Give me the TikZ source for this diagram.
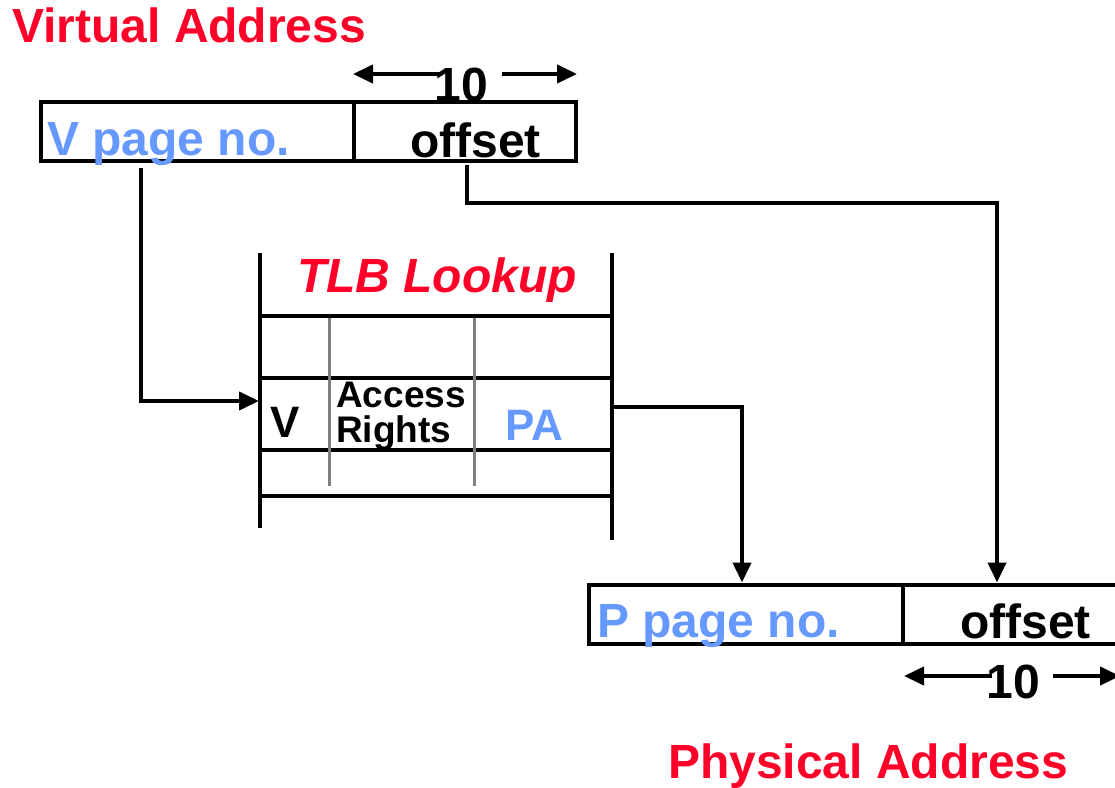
\documentclass[tikz,border=0pt]{standalone}
\usepackage{fontspec}
\setmainfont{Liberation Sans}
\usetikzlibrary{arrows.meta}
\definecolor{tred}{HTML}{FF0028}
\definecolor{tblue}{HTML}{6699FF}
\definecolor{tgray}{HTML}{808080}
\tikzset{
  fld/.style={draw=black, line width=4pt, inner sep=0pt, minimum height=59pt},
  big/.style={font=\fontsize{48}{50}\selectfont\bfseries, inner sep=0pt},
  mid/.style={font=\fontsize{44}{48}\selectfont\bfseries, inner sep=0pt},
  small/.style={font=\fontsize{37}{35}\selectfont\bfseries, inner sep=0pt, align=left},
  arr/.style={line width=4pt, -{Triangle[length=20pt,width=18pt]}},
  tline/.style={line width=4pt},
  gline/.style={line width=3pt, draw=tgray}
}
\begin{document}
\begin{tikzpicture}[x=1pt,y=-1pt]
\useasboundingbox (0,0) rectangle (1115,787);
% titles
\node[big, text=tred, anchor=base west] (vatitle) at (12,42) {Virtual Address};
\node[big, text=tred, anchor=base west] (patitle) at (668,778) {Physical Address};
% virtual address box
\node[fld, minimum width=313pt] (vpn) at (197.5,131.5) {};
\node[fld, minimum width=222pt] (voff) at (465,131.5) {};
\node[big, text=tblue, anchor=base west] (vpntext) at (47,155) {V page no.};
\node[big, anchor=base west] (vofftext) at (410,157) {offset};
% 10 width marker (top)
\node[big, anchor=base] (ten1) at (461,101) {10};
\coordinate (t1l) at (353,74);
\coordinate (t1r) at (577,74);
\coordinate (t1a) at (442,74);
\coordinate (t1b) at (502,74);
\draw[arr] (t1a) -- (t1l);
\draw[arr] (t1b) -- (t1r);
% physical address box
\node[fld, minimum width=314pt] (ppn) at (746,614) {};
\node[fld, minimum width=216pt] (poff) at (1011,614) {};
\node[big, text=tblue, anchor=base west] (ppntext) at (597,637) {P page no.};
\node[big, anchor=base west] (pofftext) at (960,638) {offset};
% 10 width marker (bottom)
\node[big, anchor=base] (ten2) at (1013,698) {10};
\coordinate (t2l) at (904,676);
\coordinate (t2r) at (1120,676);
\coordinate (t2a) at (992,676);
\coordinate (t2b) at (1053,676);
\draw[arr] (t2a) -- (t2l);
\draw[arr] (t2b) -- (t2r);
% TLB
\draw[tline] (260,253) -- (260,528);
\draw[tline] (612,253) -- (612,540);
\foreach \yy in {316,378,450,496} \draw[tline] (260,\yy) -- (612,\yy);
\draw[gline] (329,318) -- (329,486);
\draw[gline] (474,318) -- (474,486);
\node[big, text=tred, anchor=base, font=\fontsize{48}{50}\selectfont\bfseries\itshape] (tlbtitle) at (437,292) {TLB Lookup};
\node[mid, anchor=base west] (vcol) at (270,437) {V};
\node[small, anchor=base west] (acc) at (336,442) {Access\\Rights};
\node[mid, text=tblue, anchor=base west] (pacol) at (505,440) {PA};
\coordinate (tlbin) at (259,401);
\coordinate (tlbout) at (612,407);
% connectors
\coordinate (v1) at (141,401);
\draw[arr] (vpn.south -| v1) ++(0,5) -- (v1) -- (tlbin);
\coordinate (o1) at (997,203);
\coordinate (o0) at (467,203);
\draw[arr] (voff.south -| o0) ++(0,2) -- (o0) -- (o1) -- (poff.north -| o1);
\coordinate (p1) at (742,407);
\draw[arr] (tlbout) -- (p1) -- (ppn.north -| p1);
\end{tikzpicture}
\end{document}
